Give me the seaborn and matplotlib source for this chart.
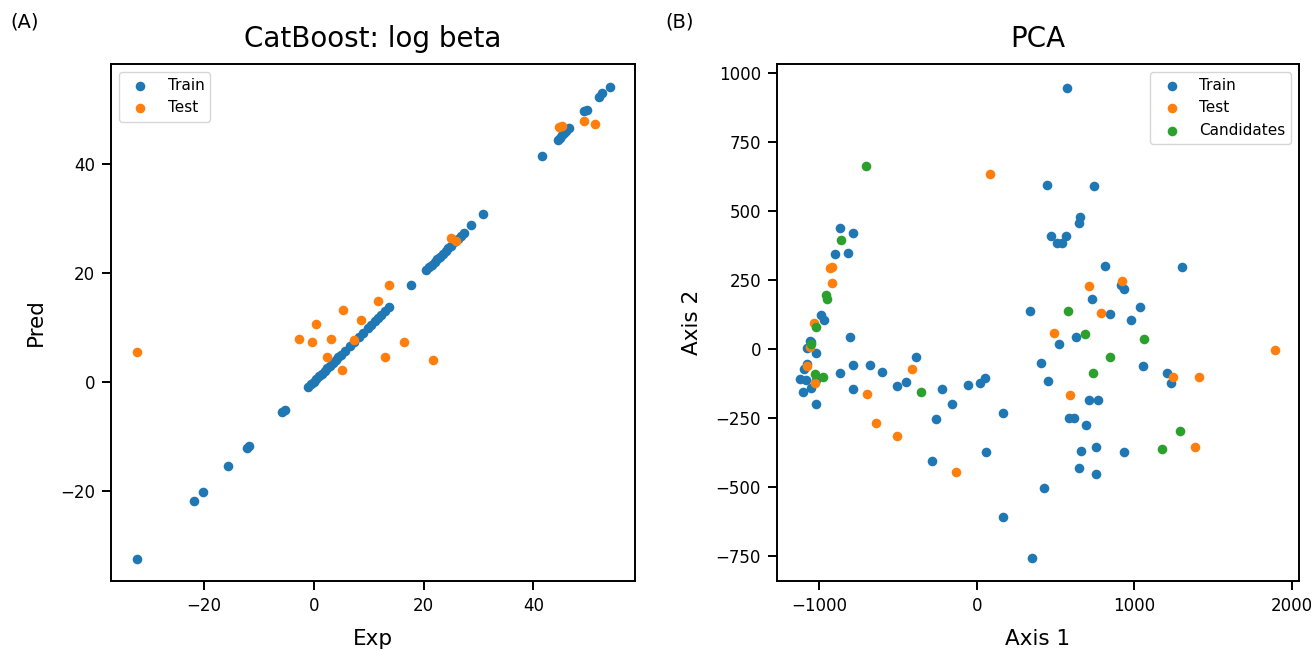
import numpy as np
import pandas as pd
import matplotlib
matplotlib.use("Agg")
import matplotlib.pyplot as plt
import seaborn as sns

# ---- CatBoost regression: experimental vs predicted log beta ----
train_exp = [-32.2, -21.8, -20.1, -15.6, -12.2, -11.7, -5.8, -5.3,
             -1.0, -0.5, 0.0, 0.5, 1.0, 1.5, 2.0, 2.5, 3.0, 3.5, 4.0, 4.5, 5.0,
             5.7, 6.6, 7.4, 8.2, 9.0, 9.9, 10.5, 11.1, 11.7, 12.3, 13.0, 13.7,
             17.8, 20.5, 21.0, 21.5, 22.0, 22.5, 23.0, 23.5, 24.0, 24.5, 25.0,
             25.6, 26.2, 26.8, 27.4, 28.7, 30.8, 41.5,
             44.4, 44.8, 45.2, 45.6, 46.0, 46.5, 49.3, 49.7, 51.9, 52.5, 54.0]
train_pred = [-32.4, -21.8, -20.2, -15.5, -12.1, -11.8, -5.6, -5.2,
              -1.0, -0.4, 0.0, 0.5, 1.0, 1.5, 2.0, 2.5, 3.0, 3.5, 4.0, 4.5, 5.0,
              5.7, 6.6, 7.4, 8.2, 9.0, 9.9, 10.5, 11.1, 11.7, 12.3, 13.0, 13.7,
              17.7, 20.5, 21.0, 21.5, 22.0, 22.5, 23.0, 23.5, 24.0, 24.5, 25.0,
              25.6, 26.2, 26.8, 27.4, 28.8, 30.8, 41.5,
              44.4, 44.8, 45.2, 45.6, 46.0, 46.5, 49.6, 49.9, 52.2, 53.0, 54.1]
test_exp = [-32.1, -2.7, -0.3, 0.5, 2.5, 3.2, 5.2, 5.3, 7.3, 8.7, 11.7,
            13.0, 13.8, 16.5, 21.8, 25.0, 25.9, 44.7, 45.2, 49.2, 51.2]
test_pred = [5.4, 7.9, 7.4, 10.6, 4.5, 7.8, 2.2, 13.2, 7.6, 11.4, 14.9,
             4.6, 17.7, 7.3, 4.1, 26.4, 25.9, 46.7, 47.0, 47.9, 47.3]

# ---- PCA projection of the descriptor space ----
pca_train_x = [575, 448, 744, 653, 647, 474, 569, 509, 543, -869, -784, -896, -816,
               816, 1304, 917, 932, 734, 340, 843, 1038, 981, -989, -968, -801,
               -1055, -1053, -1074, -1021, 628, 522, -382, -1078, -1095, -786, -679,
               -600, -869, -1122, -1080, -1048, -1101, -1017, -1021, -786, -505, -446,
               -220, -55, 23, 51, -159, -260, 167, 57, -283, 167, 351, 410, 1055,
               1207, 1235, 452, 712, 769, 585, 615, 695, 755, 660, 932, 647, 755, 425]
pca_train_y = [947, 594, 592, 479, 458, 410, 410, 383, 383, 437, 421, 344, 347,
               302, 296, 231, 218, 180, 138, 126, 153, 105, 123, 105, 44,
               29, 26, 3, -16, 43, 18, -28, -55, -74, -58, -58,
               -85, -88, -110, -112, -142, -155, -112, -199, -145, -134, -120,
               -146, -130, -124, -106, -200, -255, -231, -372, -405, -610, -758, -52, -60,
               -86, -124, -115, -185, -185, -251, -251, -275, -354, -370, -373, -432, -453, -505]
pca_test_x = [87, -928, -915, -917, -1032, -1059, -1076, -1027, -412, -696, -636,
              -505, -133, 924, 712, 786, 490, 1890, 1245, 1410, 590, 1387]
pca_test_y = [635, 292, 298, 240, 93, 6, -60, -122, -72, -163, -267,
              -315, -446, 246, 229, 129, 58, -4, -100, -100, -167, -356]
pca_cand_x = [-699, -862, -958, -947, -1017, -1048, -1027, -975, -351, 579, 685,
              1059, 843, 738, 1292, 1177]
pca_cand_y = [664, 395, 196, 180, 79, 18, -91, -103, -157, 138, 55,
              35, -28, -88, -296, -361]

set_names = ["Train", "Test", "Candidates"]
colors = {"Train": "#1f77b4", "Test": "#ff7f0e", "Candidates": "#2ca02c"}

reg = pd.concat([
    pd.DataFrame({"Exp": train_exp, "Pred": train_pred, "set": "Train"}),
    pd.DataFrame({"Exp": test_exp, "Pred": test_pred, "set": "Test"}),
])
pca = pd.concat([
    pd.DataFrame({"Axis 1": pca_train_x, "Axis 2": pca_train_y, "set": "Train"}),
    pd.DataFrame({"Axis 1": pca_test_x, "Axis 2": pca_test_y, "set": "Test"}),
    pd.DataFrame({"Axis 1": pca_cand_x, "Axis 2": pca_cand_y, "set": "Candidates"}),
])

sns.set_style("ticks")
plt.rcParams.update({
    "font.family": ["DejaVu Sans"],
    "text.color": "black",
    "axes.labelcolor": "black",
    "axes.edgecolor": "black",
    "xtick.color": "black",
    "ytick.color": "black",
    "axes.linewidth": 1.4,
    "xtick.major.width": 1.4,
    "ytick.major.width": 1.4,
    "xtick.major.size": 6.5,
    "ytick.major.size": 6.5,
    "xtick.major.pad": 5,
    "ytick.major.pad": 5,
    "xtick.labelsize": 12,
    "ytick.labelsize": 12,
    "axes.labelsize": 15.5,
    "axes.labelpad": 10,
    "axes.titlesize": 20,
    "legend.fontsize": 11,
})

fig = plt.figure(figsize=(13.11, 6.51), dpi=100)
ax1 = fig.add_axes([111 / 1311, 70 / 651, 524 / 1311, 517 / 651])
ax2 = fig.add_axes([777 / 1311, 70 / 651, 522 / 1311, 517 / 651])

marker_kw = dict(s=48, linewidth=0)

for name in ["Train", "Test"]:
    sub = reg[reg["set"] == name]
    sns.scatterplot(data=sub, x="Exp", y="Pred", color=colors[name],
                    label=name, ax=ax1, **marker_kw)
ax1.set_xlim(-36.9, 58.5)
ax1.set_ylim(-36.5, 58.3)
ax1.set_xticks([-20, 0, 20, 40])
ax1.set_yticks([-20, 0, 20, 40])
ax1.set_title("CatBoost: log beta", pad=12)
ax1.legend(loc="upper left", frameon=True, handletextpad=0.8)

for name in set_names:
    sub = pca[pca["set"] == name]
    sns.scatterplot(data=sub, x="Axis 1", y="Axis 2", color=colors[name],
                    label=name, ax=ax2, **marker_kw)
ax2.set_xlim(-1266, 2044)
ax2.set_ylim(-841, 1033)
ax2.set_xticks([-1000, 0, 1000, 2000])
ax2.set_yticks([-750, -500, -250, 0, 250, 500, 750, 1000])
ax2.set_title("PCA", pad=12)
ax2.legend(loc="upper right", frameon=True, handletextpad=0.8)

for ax in (ax1, ax2):
    for sp in ax.spines.values():
        sp.set_visible(True)

fig.text(10 / 1311, 1 - 22 / 651, "(A)", fontsize=14, va="center", ha="left")
fig.text(665 / 1311, 1 - 22 / 651, "(B)", fontsize=14, va="center", ha="left")

fig.savefig("out.png", dpi=100)
